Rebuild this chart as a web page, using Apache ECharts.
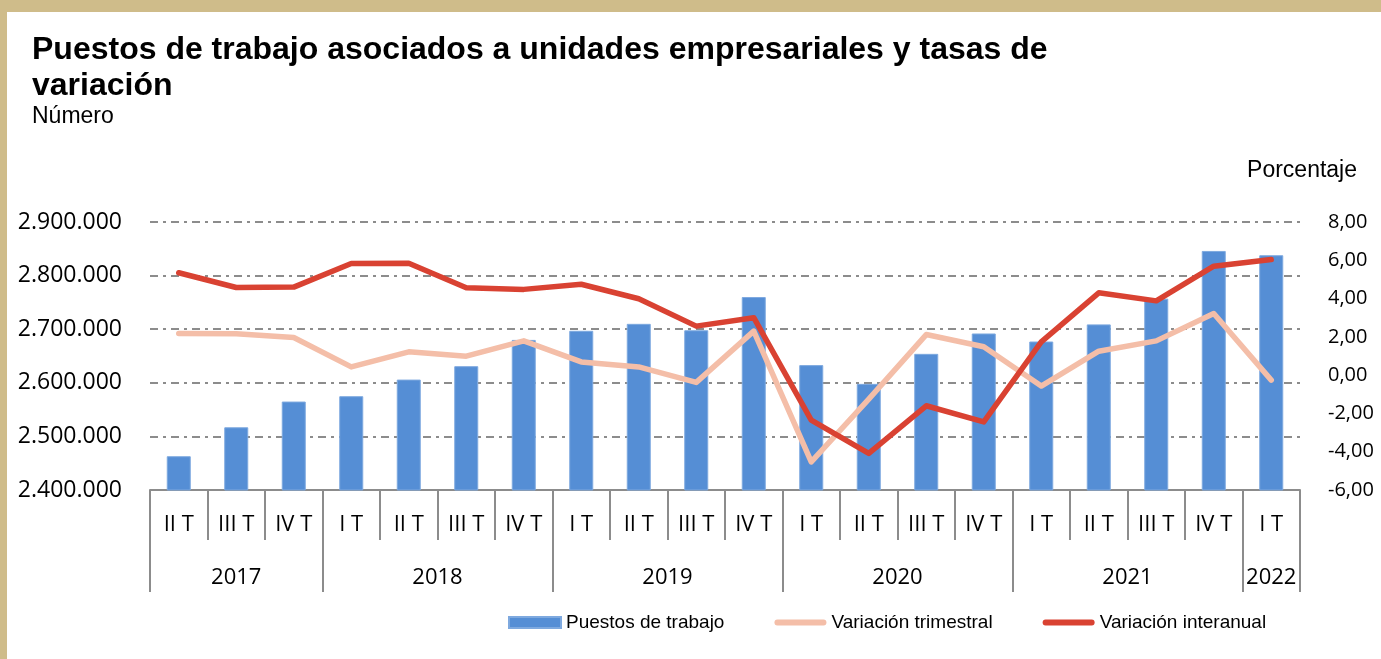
<!DOCTYPE html>
<html>
<head>
<meta charset="utf-8">
<script src="https://cdn.jsdelivr.net/npm/echarts@6/dist/echarts.min.js"></script>
<style>
  html, body { margin: 0; padding: 0; width: 1381px; height: 659px; background: #cfbc8a; overflow: hidden; }
  #chart { position: absolute; left: 7px; top: 12px; width: 1374px; height: 647px; background: #ffffff; }
</style>
</head>
<body>
<div id="chart"></div>
<script>
// ---- data ----
const quarters = ['II T','III T','IV T','I T','II T','III T','IV T','I T','II T','III T','IV T','I T','II T','III T','IV T','I T','II T','III T','IV T','I T'];
const years = ['2017','2018','2019','2020','2021','2022'];
const yearSpans = [3, 4, 4, 4, 4, 1];
const puestos = [2463000, 2517000, 2565000, 2575000, 2606000, 2631000, 2680000, 2697000, 2710000, 2698000, 2760000, 2633000, 2598000, 2654000, 2692000, 2677000, 2709000, 2757000, 2846000, 2838000];
const trimestral = [2.18, 2.16, 1.97, 0.43, 1.22, 0.99, 1.79, 0.69, 0.43, -0.38, 2.30, -4.53, -1.25, 2.12, 1.48, -0.57, 1.25, 1.79, 3.22, -0.26];
const interanual = [5.35, 4.58, 4.60, 5.83, 5.85, 4.57, 4.48, 4.75, 3.99, 2.56, 3.00, -2.35, -4.09, -1.60, -2.44, 1.74, 4.30, 3.88, 5.69, 6.04];
const leftTicks = { min: 2400000, max: 2900000, interval: 100000 };
const rightTicks = { min: -6, max: 8, interval: 2 };

// build category ids (unique) and year group boundaries/centres
const catIds = [];
const yearBounds = [0];
const yearCenters = [];
let acc = 0;
years.forEach((y, i) => {
  for (let k = 0; k < yearSpans[i]; k++) catIds.push(y + '|' + quarters[acc + k]);
  yearCenters.push(acc + yearSpans[i] / 2);
  acc += yearSpans[i];
  yearBounds.push(acc);
});

const axisGray = '#8c8c8c';
const labelFont = 'Open Sans';
const lineIcon = 'path://M3,0 H51 A3,3 0 0 1 51,6 H3 A3,3 0 0 1 3,0 Z';

const chart = echarts.init(document.getElementById('chart'), null, { renderer: 'canvas' });
chart.setOption({
  animation: false,
  backgroundColor: '#ffffff',
  title: [
    {
      text: 'Puestos de trabajo asociados a unidades empresariales y tasas de\nvariación',
      left: 25, top: 20, padding: 0,
      textStyle: { fontFamily: 'Liberation Sans, Arial', fontWeight: 'bold', fontSize: 32, lineHeight: 36, color: '#000' }
    },
    {
      text: 'Número',
      left: 25, top: 93, padding: 0,
      textStyle: { fontFamily: 'Liberation Sans, Arial', fontWeight: 'normal', fontSize: 23, color: '#000' }
    },
    {
      text: 'Porcentaje',
      right: 24, top: 147, padding: 0,
      textStyle: { fontFamily: 'Liberation Sans, Arial', fontWeight: 'normal', fontSize: 23, color: '#000' }
    }
  ],
  legend: {
    left: 496, top: 596,
    itemWidth: 52, itemHeight: 11, itemGap: 50,
    symbolKeepAspect: true,
    textStyle: { fontFamily: 'Liberation Sans, Arial', fontSize: 19, color: '#000' },
    data: [
      { name: 'Puestos de trabajo', icon: 'rect' },
      { name: 'Variación trimestral', icon: lineIcon },
      { name: 'Variación interanual', icon: lineIcon }
    ]
  },
  grid: { left: 143, right: 81, top: 210, height: 268, containLabel: false },
  xAxis: [
    {
      type: 'category',
      data: catIds,
      boundaryGap: true,
      axisLine: { show: true, onZero: false, lineStyle: { color: axisGray, width: 2 } },
      axisTick: { show: true, interval: 0, length: 50, alignWithLabel: false, lineStyle: { color: axisGray, width: 2 } },
      axisLabel: {
        interval: 0, margin: 24,
        fontFamily: labelFont, fontSize: 22, color: '#000',
        formatter: v => v.split('|')[1]
      },
      splitLine: { show: false }
    },
    {
      type: 'value',
      position: 'bottom',
      min: 0, max: quarters.length,
      axisLine: { show: false, onZero: false },
      axisTick: { show: true, customValues: yearBounds, length: 102, lineStyle: { color: axisGray, width: 2 } },
      axisLabel: {
        customValues: yearCenters, margin: 77,
        fontFamily: labelFont, fontSize: 22, color: '#000',
        formatter: v => years[yearCenters.indexOf(v)] || ''
      },
      splitLine: { show: false }
    }
  ],
  yAxis: [
    {
      type: 'value',
      min: leftTicks.min, max: leftTicks.max, interval: leftTicks.interval,
      axisLine: { show: false },
      axisTick: { show: false },
      axisLabel: {
        margin: 28, fontFamily: labelFont, fontSize: 23, color: '#000',
        formatter: v => String(v).replace(/\B(?=(\d{3})+(?!\d))/g, '.')
      },
      splitLine: { show: true, lineStyle: { color: axisGray, width: 2, type: [8, 5, 3, 5] } }
    },
    {
      type: 'value',
      min: rightTicks.min, max: rightTicks.max, interval: rightTicks.interval,
      axisLine: { show: false },
      axisTick: { show: false },
      axisLabel: {
        margin: 28, fontFamily: labelFont, fontSize: 20, color: '#000',
        formatter: v => v.toFixed(2).replace('.', ',')
      },
      splitLine: { show: false }
    }
  ],
  series: [
    {
      name: 'Puestos de trabajo',
      type: 'bar',
      xAxisIndex: 0, yAxisIndex: 0,
      data: puestos,
      barWidth: 24,
      itemStyle: { color: '#558ed5', borderColor: '#7ea9df', borderWidth: 1 },
      z: 2
    },
    {
      name: 'Variación trimestral',
      type: 'line',
      xAxisIndex: 0, yAxisIndex: 1,
      data: trimestral,
      symbol: 'none',
      lineStyle: { color: '#f4bea8', width: 5.5, cap: 'round', join: 'round' },
      itemStyle: { color: '#f4bea8' },
      z: 3
    },
    {
      name: 'Variación interanual',
      type: 'line',
      xAxisIndex: 0, yAxisIndex: 1,
      data: interanual,
      symbol: 'none',
      lineStyle: { color: '#d94232', width: 5.5, cap: 'round', join: 'round' },
      itemStyle: { color: '#d94232' },
      z: 4
    }
  ]
});
</script>
</body>
</html>
